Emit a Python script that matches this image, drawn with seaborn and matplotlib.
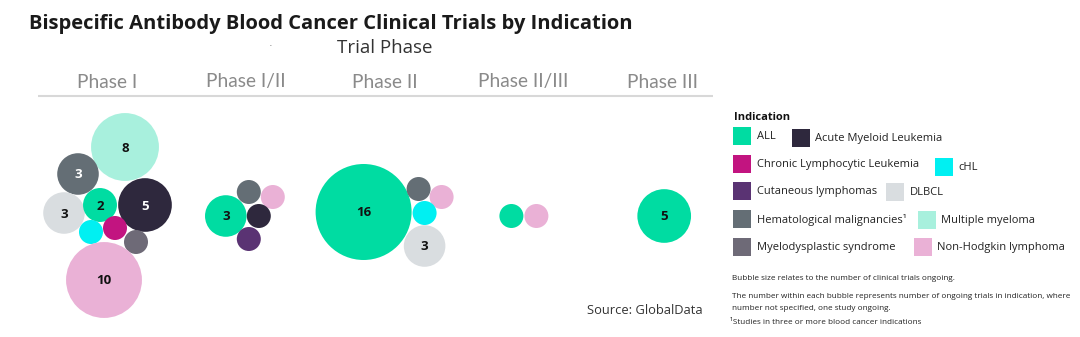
import matplotlib
matplotlib.use("Agg")
import matplotlib.pyplot as plt
import seaborn as sns
import pandas as pd
import numpy as np
from matplotlib.patches import Rectangle

# ---------------- data ----------------
phases = ["Phase I", "Phase I/II", "Phase II", "Phase II/III", "Phase III"]
indications = ["ALL", "Acute Myeloid Leukemia", "Chronic Lymphocytic Leukemia", "cHL",
               "Cutaneous lymphomas", "DLBCL", "Hematological malignancies",
               "Multiple myeloma", "Myelodysplastic syndrome", "Non-Hodgkin lymphoma"]
legend_labels = ["ALL", "Acute Myeloid Leukemia", "Chronic Lymphocytic Leukemia", "cHL",
                 "Cutaneous lymphomas", "DLBCL", "Hematological malignancies\u00b9",
                 "Multiple myeloma", "Myelodysplastic syndrome", "Non-Hodgkin lymphoma"]

bubble_phase = ["Phase I"] * 9 + ["Phase I/II"] * 5 + ["Phase II"] * 5 + ["Phase II/III"] * 2 + ["Phase III"]
bubble_indication = [
    "Multiple myeloma", "Hematological malignancies", "DLBCL", "ALL", "Acute Myeloid Leukemia",
    "cHL", "Chronic Lymphocytic Leukemia", "Myelodysplastic syndrome", "Non-Hodgkin lymphoma",
    "ALL", "Hematological malignancies", "Non-Hodgkin lymphoma", "Acute Myeloid Leukemia", "Cutaneous lymphomas",
    "ALL", "Hematological malignancies", "Non-Hodgkin lymphoma", "cHL", "DLBCL",
    "ALL", "Non-Hodgkin lymphoma",
    "ALL",
]
bubble_trials = [8, 3, 3, 2, 5, 1, 1, 1, 10,
                 3, 1, 1, 1, 1,
                 16, 1, 1, 1, 3,
                 1, 1,
                 5]

# ---------------- layout (packing offsets, px) ----------------
pack_dx = [18, -29, -43, -7, 38, -16, 8, 29, -3,
           -20, 3, 27, 13, 3,
           -21, 34, 57, 40, 40,
           -12, 13,
           2]
pack_dy = [-65, -38, 1, -7, -7, 20, 16, 30, 68,
           4, -20, -15, 4, 27,
           0, -23, -15, 1, 34,
           4, 4,
           4]

colors = {
    "ALL": "#00DCA2",
    "Acute Myeloid Leukemia": "#2E283D",
    "Chronic Lymphocytic Leukemia": "#C21480",
    "cHL": "#00F0F2",
    "Cutaneous lymphomas": "#5A3373",
    "DLBCL": "#D9DDE0",
    "Hematological malignancies": "#646E75",
    "Multiple myeloma": "#A8F0DD",
    "Myelodysplastic syndrome": "#6E6A77",
    "Non-Hodgkin lymphoma": "#EAB1D6",
}
dark = {"Acute Myeloid Leukemia", "Hematological malignancies", "Cutaneous lymphomas",
        "Myelodysplastic syndrome", "Chronic Lymphocytic Leukemia"}

W, H, DPI = 1080, 337, 100
PHASE_X0, PHASE_STEP, ROW_Y = 107, 138.8, 212

sns.set_theme(style="white")
plt.rcParams["font.family"] = ["Open Sans", "DejaVu Sans"]

fig = plt.figure(figsize=(W / DPI, H / DPI), dpi=DPI)
ax = fig.add_axes([0, 0, 1, 1])

df = pd.DataFrame({"phase": bubble_phase, "indication": bubble_indication, "trials": bubble_trials,
                   "dx": pack_dx, "dy": pack_dy})
df["x"] = df["phase"].map({p: PHASE_X0 + i * PHASE_STEP for i, p in enumerate(phases)}) + df["dx"]
df["y"] = ROW_Y + df["dy"]

base_d_pt = 24 * 72 / DPI
base_s = base_d_pt ** 2
sns.scatterplot(data=df, x="x", y="y", hue="indication", palette=colors, size="trials",
                sizes=(base_s, base_s * 16), size_norm=(1, 16), linewidth=0, legend=False,
                alpha=1, ax=ax)
ax.set_xlim(0, W)
ax.set_ylim(H, 0)
ax.axis("off")

for _, r in df.iterrows():
    if r["trials"] > 1:
        ax.text(r["x"], r["y"] + 1, str(r["trials"]), ha="center", va="center",
                fontsize=9.5, fontweight="bold",
                color="white" if r["indication"] in dark else "#111111")

# phase header
for i, p in enumerate(phases):
    ax.text(PHASE_X0 + i * PHASE_STEP, 82, p, ha="center", va="center", fontsize=13.8,
            color="#8A8A8A", fontweight="normal", family=["Lato", "DejaVu Sans"])
ax.plot([38, 713], [95.5, 95.5], color="#D8D8D8", lw=1.5, solid_capstyle="butt")

# titles
def fx(x): return x / W
def fy(y): return 1 - y / H

fig.text(fx(29), fy(24.5), "Bispecific Antibody Blood Cancer Clinical Trials by Indication",
         ha="left", va="center", fontsize=14.5, fontweight="bold", color="#1A1A1A")
fig.text(fx(385), fy(48), "Trial Phase", ha="center", va="center", fontsize=13.5, color="#333333")
fig.text(fx(270), fy(44), ".", ha="center", va="center", fontsize=5, color="#333333")

# legend
fig.text(fx(734), fy(117), "Indication", ha="left", va="center", fontsize=8, fontweight="bold", color="#111111")
leg_items = [
    (0, 733, 136, 757), (1, 792, 138, 815),
    (2, 733, 164, 757), (3, 935, 166.5, 958),
    (4, 733, 191, 757), (5, 886, 192, 910),
    (6, 733, 219, 757), (7, 918, 220, 941),
    (8, 733, 247, 757), (9, 914, 247, 937),
]
for idx, sx, sy, tx in leg_items:
    ax.add_patch(Rectangle((sx, sy - 9), 18, 18, facecolor=colors[indications[idx]], edgecolor="none"))
    ax.text(tx, sy + 0.5, legend_labels[idx], ha="left", va="center", fontsize=8, color="#222222")

notes = [
    (279, "Bubble size relates to the number of clinical trials ongoing."),
    (297, "The number within each bubble represents number of ongoing trials in indication, where"),
    (309, "number not specified, one study ongoing."),
]
for y, t in notes:
    fig.text(fx(732), fy(y), t, ha="left", va="center", fontsize=5.9, color="#222222")
fig.text(fx(730), fy(322), "\u00b9Studies in three or more blood cancer indications", ha="left", va="center",
         fontsize=5.9, color="#222222")

fig.text(fx(587), fy(311), "Source: GlobalData", ha="left", va="center", fontsize=9.3, color="#333333")

fig.savefig("out.png", dpi=DPI)
